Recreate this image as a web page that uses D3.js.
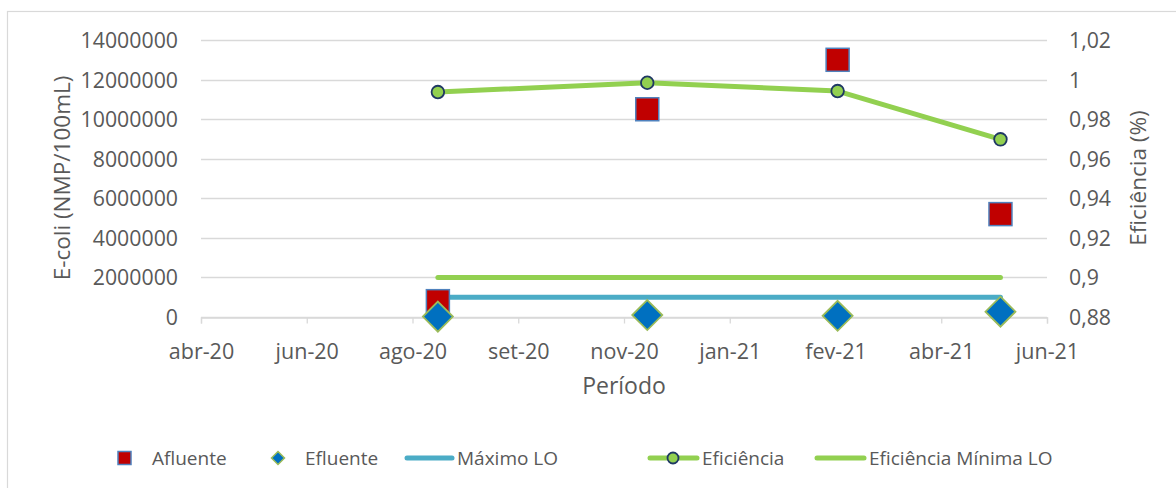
<!DOCTYPE html>
<html>
<head>
<meta charset="utf-8">
<script src="https://cdn.jsdelivr.net/npm/d3@7"></script>
<style>
  html, body { margin: 0; padding: 0; background: #fff; }
  svg { display: block; font-family: "Open Sans", sans-serif; }
</style>
</head>
<body>
<svg id="chart" width="1176" height="488"></svg>
<script>
// Sampling dates (yyyy-mm-dd)
const sampleDates = ["2020-08-18", "2020-11-25", "2021-02-23", "2021-05-11"];
// E. coli, NMP/100mL
const afluente = [800000, 10500000, 13000000, 5200000];
const efluente = [20000, 100000, 60000, 270000];
// Removal efficiency (fraction)
const eficiencia = [0.9937, 0.9984, 0.9942, 0.9698];
// Licence limits
const maximoLO = [1000000, 1000000, 1000000, 1000000];
const eficienciaMinimaLO = [0.9, 0.9, 0.9, 0.9];

// Axis settings
const xStart = "2020-04-28";
const xStepDays = 50;
const xTickCount = 9;
const leftTicks = [0, 2000000, 4000000, 6000000, 8000000, 10000000, 12000000, 14000000];
const rightTicks = [0.88, 0.90, 0.92, 0.94, 0.96, 0.98, 1.00, 1.02];

const legendLabels = ["Afluente", "Efluente", "Máximo LO", "Eficiência", "Eficiência Mínima LO"];

const parse = d3.utcParse("%Y-%m-%d");
const ptLocale = d3.timeFormatLocale({
  dateTime: "%d/%m/%Y %H:%M:%S", date: "%d/%m/%Y", time: "%H:%M:%S",
  periods: ["AM", "PM"],
  days: ["domingo", "segunda", "terça", "quarta", "quinta", "sexta", "sábado"],
  shortDays: ["dom", "seg", "ter", "qua", "qui", "sex", "sáb"],
  months: ["janeiro", "fevereiro", "março", "abril", "maio", "junho", "julho", "agosto", "setembro", "outubro", "novembro", "dezembro"],
  shortMonths: ["jan", "fev", "mar", "abr", "mai", "jun", "jul", "ago", "set", "out", "nov", "dez"]
});
const fmtDate = ptLocale.utcFormat("%b-%y");
const fmtRight = v => d3.format(".2~f")(v).replace(".", ",");

const dates = sampleDates.map(parse);
const start = parse(xStart);
const xTicks = d3.range(xTickCount).map(i => d3.utcDay.offset(start, i * xStepDays));

const svg = d3.select("#chart");
const W = 1176, H = 488;
const plot = { left: 201, right: 1047, top: 40, bottom: 317 };

const x = d3.scaleUtc().domain([xTicks[0], xTicks[xTicks.length - 1]]).range([plot.left, plot.right]);
const yL = d3.scaleLinear().domain([0, 14000000]).range([plot.bottom, plot.top]);
const yR = d3.scaleLinear().domain([0.88, 1.02]).range([plot.bottom, plot.top]);

const textColor = "#595959";
const gridColor = "#d9d9d9";

// Chart frame
svg.append("rect")
  .attr("x", 7.5).attr("y", 11.5)
  .attr("width", W + 20).attr("height", H + 20)
  .attr("fill", "#fff").attr("stroke", gridColor).attr("stroke-width", 1.2);

// Horizontal gridlines
svg.append("g").selectAll("line").data(leftTicks).join("line")
  .attr("x1", plot.left).attr("x2", plot.right)
  .attr("y1", d => Math.round(yL(d)) + 0.5).attr("y2", d => Math.round(yL(d)) + 0.5)
  .attr("stroke", gridColor).attr("stroke-width", 1.3);

// Left axis
const gL = svg.append("g").attr("transform", `translate(${plot.left - 23},0)`)
  .call(d3.axisLeft(yL).tickValues(leftTicks).tickFormat(d3.format("d")).tickSize(0).tickPadding(0));
gL.select(".domain").remove();
gL.selectAll("text").attr("fill", textColor).attr("font-size", 21.3).attr("font-family", "Open Sans").attr("dy", "0.35em");

// Right axis
const gR = svg.append("g").attr("transform", `translate(${plot.right + 22},0)`)
  .call(d3.axisRight(yR).tickValues(rightTicks).tickFormat(fmtRight).tickSize(0).tickPadding(0));
gR.select(".domain").remove();
gR.selectAll("text").attr("fill", textColor).attr("font-size", 21.3).attr("font-family", "Open Sans").attr("dy", "0.35em");

// Bottom axis
const gX = svg.append("g").attr("transform", `translate(0,${Math.round(plot.bottom) + 0.5})`)
  .call(d3.axisBottom(x).tickValues(xTicks).tickFormat(fmtDate).tickSize(6).tickPadding(20));
gX.select(".domain").attr("stroke", gridColor).attr("stroke-width", 1.3);
gX.selectAll(".tick line").attr("stroke", gridColor).attr("stroke-width", 1.3);
gX.selectAll("text").attr("fill", textColor).attr("font-size", 21.5).attr("font-family", "Open Sans");

// Axis titles
svg.append("text").attr("transform", `translate(70,178) rotate(-90)`)
  .attr("text-anchor", "middle").attr("fill", textColor).attr("font-size", 22.5)
  .text("E-coli (NMP/100mL)");
svg.append("text").attr("transform", `translate(1146,178) rotate(-90)`)
  .attr("text-anchor", "middle").attr("fill", textColor).attr("font-size", 22.5)
  .text("Eficiência (%)");
svg.append("text").attr("x", 624).attr("y", 394)
  .attr("text-anchor", "middle").attr("fill", textColor).attr("font-size", 23)
  .text("Período");

const lineCol = "#92d050", maxCol = "#4bacc6";

// Eficiência Mínima LO
svg.append("path")
  .datum(eficienciaMinimaLO.map((v, i) => [dates[i], v]))
  .attr("fill", "none").attr("stroke", lineCol).attr("stroke-width", 5).attr("stroke-linecap", "round")
  .attr("d", d3.line().x(d => x(d[0])).y(d => yR(d[1])));

// Máximo LO
svg.append("path")
  .datum(maximoLO.map((v, i) => [dates[i], v]))
  .attr("fill", "none").attr("stroke", maxCol).attr("stroke-width", 5).attr("stroke-linecap", "round")
  .attr("d", d3.line().x(d => x(d[0])).y(d => yL(d[1])));

// Afluente squares
const sq = 23;
svg.append("g").selectAll("rect").data(afluente).join("rect")
  .attr("x", (d, i) => x(dates[i]) - sq / 2).attr("y", d => yL(d) - sq / 2)
  .attr("width", sq).attr("height", sq)
  .attr("fill", "#c00000").attr("stroke", "#4f81bd").attr("stroke-width", 1.5);

// Eficiência line + markers
svg.append("path")
  .datum(eficiencia.map((v, i) => [dates[i], v]))
  .attr("fill", "none").attr("stroke", lineCol).attr("stroke-width", 5).attr("stroke-linecap", "round")
  .attr("stroke-linejoin", "round")
  .attr("d", d3.line().x(d => x(d[0])).y(d => yR(d[1])));
svg.append("g").selectAll("circle").data(eficiencia).join("circle")
  .attr("cx", (d, i) => x(dates[i])).attr("cy", d => yR(d)).attr("r", 6.3)
  .attr("fill", lineCol).attr("stroke", "#1f3864").attr("stroke-width", 1.8);

// Efluente diamonds
const dm = 15;
const diamond = `M0,${-dm}L${dm},0L0,${dm}L${-dm},0Z`;
svg.append("g").selectAll("path").data(efluente).join("path")
  .attr("transform", (d, i) => `translate(${x(dates[i])},${yL(d)})`)
  .attr("d", diamond)
  .attr("fill", "#0070c0").attr("stroke", "#9bbb59").attr("stroke-width", 1.8);

// Legend
const legY = 458;
const leg = svg.append("g").attr("font-size", 19).attr("fill", textColor);
// Afluente
leg.append("rect").attr("x", 118).attr("y", legY - 6.5).attr("width", 13).attr("height", 13)
  .attr("fill", "#c00000").attr("stroke", "#4f81bd").attr("stroke-width", 1.5);
leg.append("text").attr("x", 152).attr("y", legY).attr("dy", "0.35em").text(legendLabels[0]);
// Efluente
const dl = 6.5;
leg.append("path").attr("transform", `translate(278,${legY})`)
  .attr("d", `M0,${-dl}L${dl},0L0,${dl}L${-dl},0Z`)
  .attr("fill", "#0070c0").attr("stroke", "#9bbb59").attr("stroke-width", 1.5);
leg.append("text").attr("x", 305).attr("y", legY).attr("dy", "0.35em").text(legendLabels[1]);
// Máximo LO
leg.append("line").attr("x1", 407).attr("x2", 452).attr("y1", legY).attr("y2", legY)
  .attr("stroke", maxCol).attr("stroke-width", 5).attr("stroke-linecap", "round");
leg.append("text").attr("x", 457).attr("y", legY).attr("dy", "0.35em").text(legendLabels[2]);
// Eficiência
leg.append("line").attr("x1", 650).attr("x2", 697).attr("y1", legY).attr("y2", legY)
  .attr("stroke", lineCol).attr("stroke-width", 5).attr("stroke-linecap", "round");
leg.append("circle").attr("cx", 673).attr("cy", legY).attr("r", 5.5)
  .attr("fill", lineCol).attr("stroke", "#1f3864").attr("stroke-width", 1.8);
leg.append("text").attr("x", 702).attr("y", legY).attr("dy", "0.35em").text(legendLabels[3]);
// Eficiência Mínima LO
leg.append("line").attr("x1", 817).attr("x2", 864).attr("y1", legY).attr("y2", legY)
  .attr("stroke", lineCol).attr("stroke-width", 5).attr("stroke-linecap", "round");
leg.append("text").attr("x", 869).attr("y", legY).attr("dy", "0.35em").text(legendLabels[4]);
</script>
</body>
</html>
